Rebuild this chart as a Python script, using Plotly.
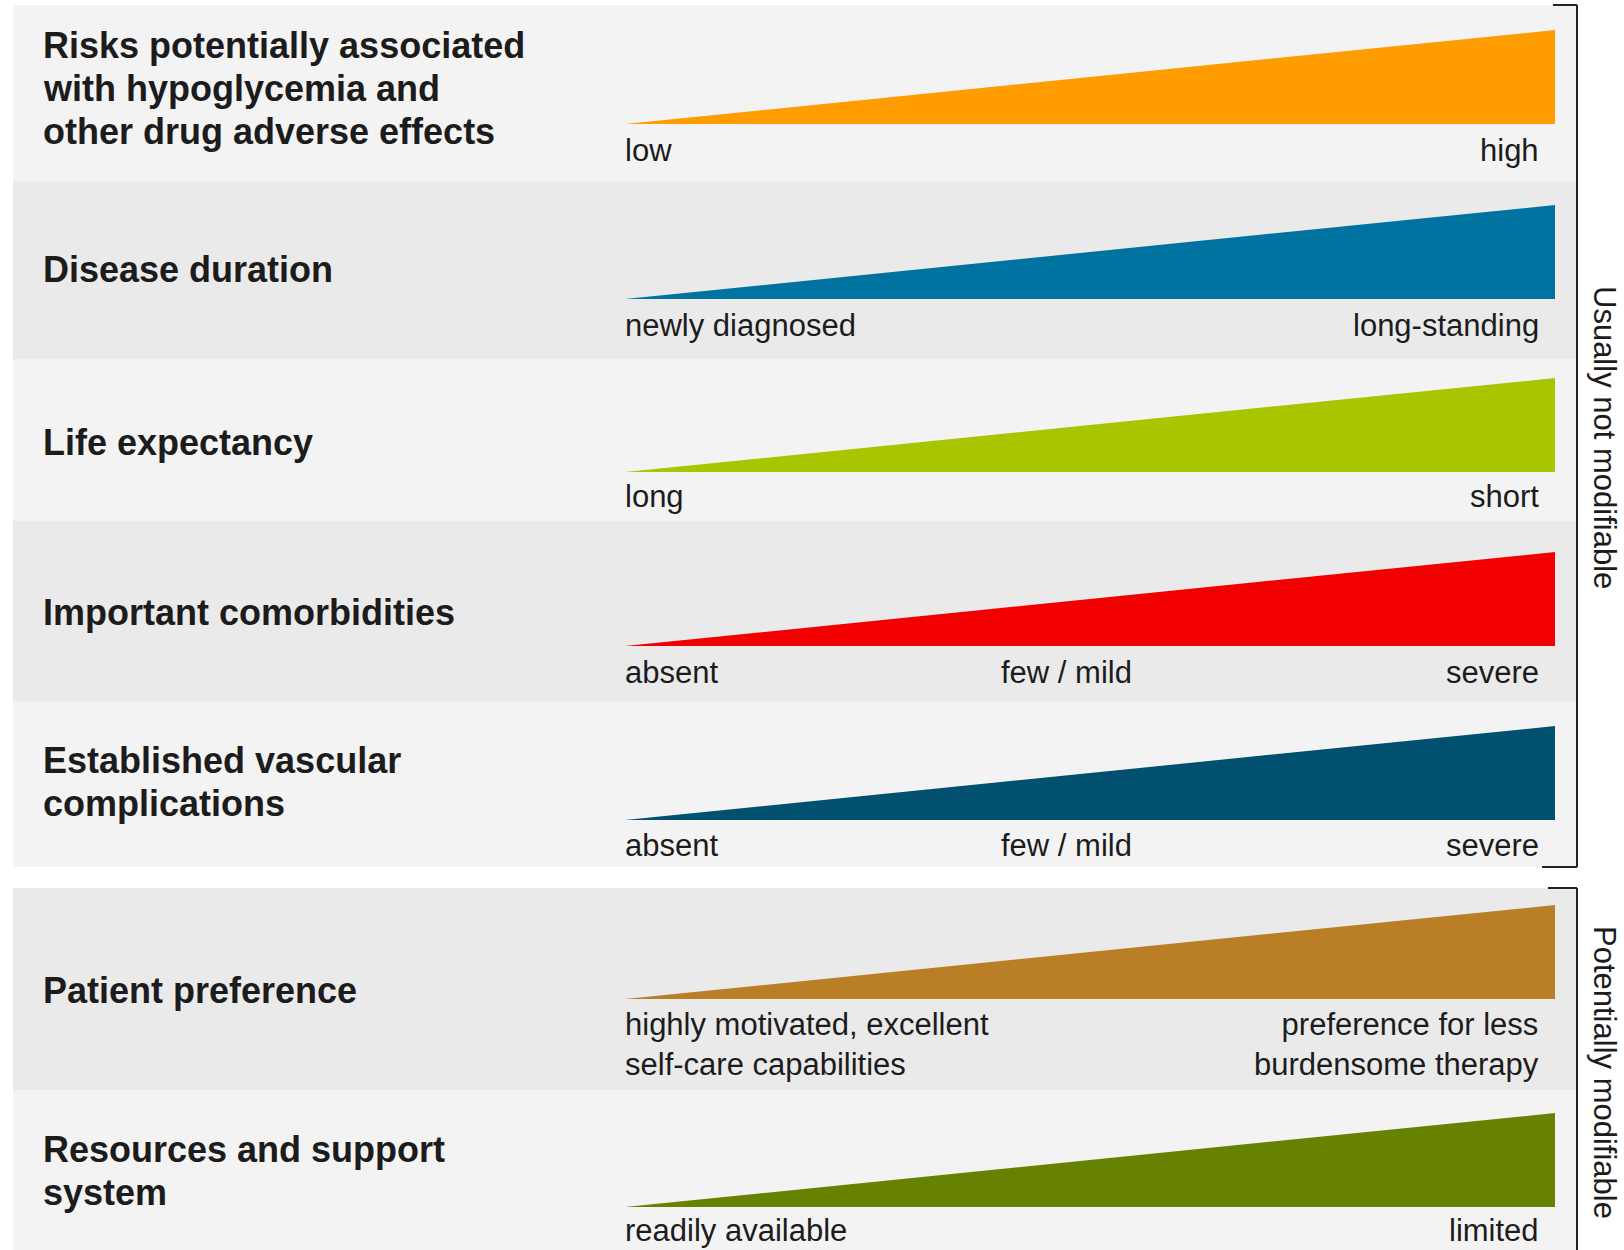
import plotly.graph_objects as go

# ---------------- data ----------------
factors = [
    "Risks potentially associated<br>with hypoglycemia and<br>other drug adverse effects",
    "Disease duration",
    "Life expectancy",
    "Important comorbidities",
    "Established vascular<br>complications",
    "Patient preference",
    "Resources and support<br>system",
]
left_labels = [
    "low",
    "newly diagnosed",
    "long",
    "absent",
    "absent",
    "highly motivated, excellent<br>self-care capabilities",
    "readily available",
]
mid_labels = ["", "", "", "few / mild", "few / mild", "", ""]
right_labels = [
    "high",
    "long-standing",
    "short",
    "severe",
    "severe",
    "preference for less<br>burdensome therapy",
    "limited",
]
colors = ["#ff9c00", "#00729f", "#a9c500", "#f20000", "#01506f", "#b97e26", "#678200"]
ramp_x = [0, 1]          # position along the scale (left end -> right end)
ramp_y = [0, 1]          # intensity (low -> high)
groups = ["Usually not modifiable", "Potentially modifiable"]

# ---------------- layout constants (pixels) ----------------
W, H = 1624, 1250
band_top = [5, 181, 359, 521, 701, 888, 1090]
band_bot = [181, 359, 521, 701, 867, 1090, 1250]
band_fill = ["#f3f3f3", "#eaeaea", "#f3f3f3", "#eaeaea", "#f3f3f3", "#eaeaea", "#f3f3f3"]
band_x0, band_x1 = 13, 1576
tri_x0, tri_x1 = 625, 1555
tri_base = [124, 299, 472, 646, 820, 999, 1207]
tri_h = 94
title_y = [88, 270, 442, 612, 782, 991, 1171]
title_line_gap = 43
label_off = [26, 27, 25, 26, 25, 45, 23]
mid_x = 1066
right_x = 1541
title_x = 41
brack_x = 1577
font_family = "Liberation Sans, Arial, Helvetica, sans-serif"
text_col = "#1c1c1c"
title_size = 36
label_size = 31


def px(x):
    return x / W


def py(y):
    return 1 - y / H


fig = go.Figure()
shapes = []
annotations = []
layout_axes = {}

layout_axes["xaxis"] = dict(domain=[px(tri_x0), px(tri_x1)], range=[0, 1], visible=False,
                            fixedrange=True)

for i, name in enumerate(factors):
    # background band
    shapes.append(dict(type="rect", xref="paper", yref="paper",
                       x0=px(band_x0), x1=px(band_x1),
                       y0=py(band_bot[i]), y1=py(band_top[i]),
                       fillcolor=band_fill[i], line=dict(width=0), layer="below"))
    # axis for the ramp
    ax = "yaxis" if i == 0 else f"yaxis{i + 1}"
    layout_axes[ax] = dict(domain=[py(tri_base[i]), py(tri_base[i] - tri_h)],
                           range=[0, 1], visible=False, anchor="x", fixedrange=True)
    fig.add_trace(go.Scatter(
        x=ramp_x, y=ramp_y, mode="lines",
        line=dict(width=0, color=colors[i]),
        fill="tozeroy", fillcolor=colors[i],
        xaxis="x", yaxis="y" if i == 0 else f"y{i + 1}",
        hoverinfo="skip", showlegend=False))
    # title, one annotation per line
    lines = name.split("<br>")
    n = len(lines)
    for k, line in enumerate(lines):
        yc = title_y[i] + (k - (n - 1) / 2) * title_line_gap
        annotations.append(dict(text=f"<b>{line}</b>", xref="paper", yref="paper",
                                x=px(title_x), y=py(yc), xanchor="left",
                                yanchor="middle", align="left", showarrow=False,
                                font=dict(family=font_family, size=title_size, color=text_col)))
    ly = py(tri_base[i] + label_off[i])
    annotations.append(dict(text=left_labels[i], xref="paper", yref="paper",
                            x=px(tri_x0 - 2), y=ly, xanchor="left", yanchor="middle",
                            align="left", showarrow=False,
                            font=dict(family=font_family, size=label_size, color=text_col)))
    annotations.append(dict(text=right_labels[i], xref="paper", yref="paper",
                            x=px(right_x), y=ly, xanchor="right", yanchor="middle",
                            align="right", showarrow=False,
                            font=dict(family=font_family, size=label_size, color=text_col)))
    if mid_labels[i]:
        annotations.append(dict(text=mid_labels[i], xref="paper", yref="paper",
                                x=px(mid_x), y=ly, xanchor="center", yanchor="middle",
                                showarrow=False,
                                font=dict(family=font_family, size=label_size, color=text_col)))

# brackets and group labels
brackets = [
    dict(top=5, bot=867, tick_top=1553, tick_bot=1542),
    dict(top=888, bot=1252, tick_top=1548, tick_bot=None),
]
group_label_y = [437, 1072]
for g, b in enumerate(brackets):
    lc = dict(color="#222222", width=2)
    shapes.append(dict(type="line", xref="paper", yref="paper",
                       x0=px(brack_x), x1=px(brack_x), y0=py(b["top"]), y1=py(b["bot"]),
                       line=lc))
    shapes.append(dict(type="line", xref="paper", yref="paper",
                       x0=px(b["tick_top"]), x1=px(brack_x), y0=py(b["top"]), y1=py(b["top"]),
                       line=lc))
    if b["tick_bot"] is not None:
        shapes.append(dict(type="line", xref="paper", yref="paper",
                           x0=px(b["tick_bot"]), x1=px(brack_x), y0=py(b["bot"]),
                           y1=py(b["bot"]), line=lc))
    annotations.append(dict(text=groups[g], xref="paper", yref="paper",
                            x=px(1605), y=py(group_label_y[g]), textangle=90,
                            xanchor="center", yanchor="middle", showarrow=False,
                            font=dict(family=font_family, size=label_size, color=text_col)))

fig.update_layout(
    width=W, height=H,
    margin=dict(l=0, r=0, t=0, b=0, pad=0),
    paper_bgcolor="white", plot_bgcolor="rgba(0,0,0,0)",
    shapes=shapes, annotations=annotations,
    showlegend=False,
    **layout_axes,
)

fig.write_html("out.html", config={"displayModeBar": False},
               post_script="document.body.style.margin='0';document.body.style.overflow='hidden';")
